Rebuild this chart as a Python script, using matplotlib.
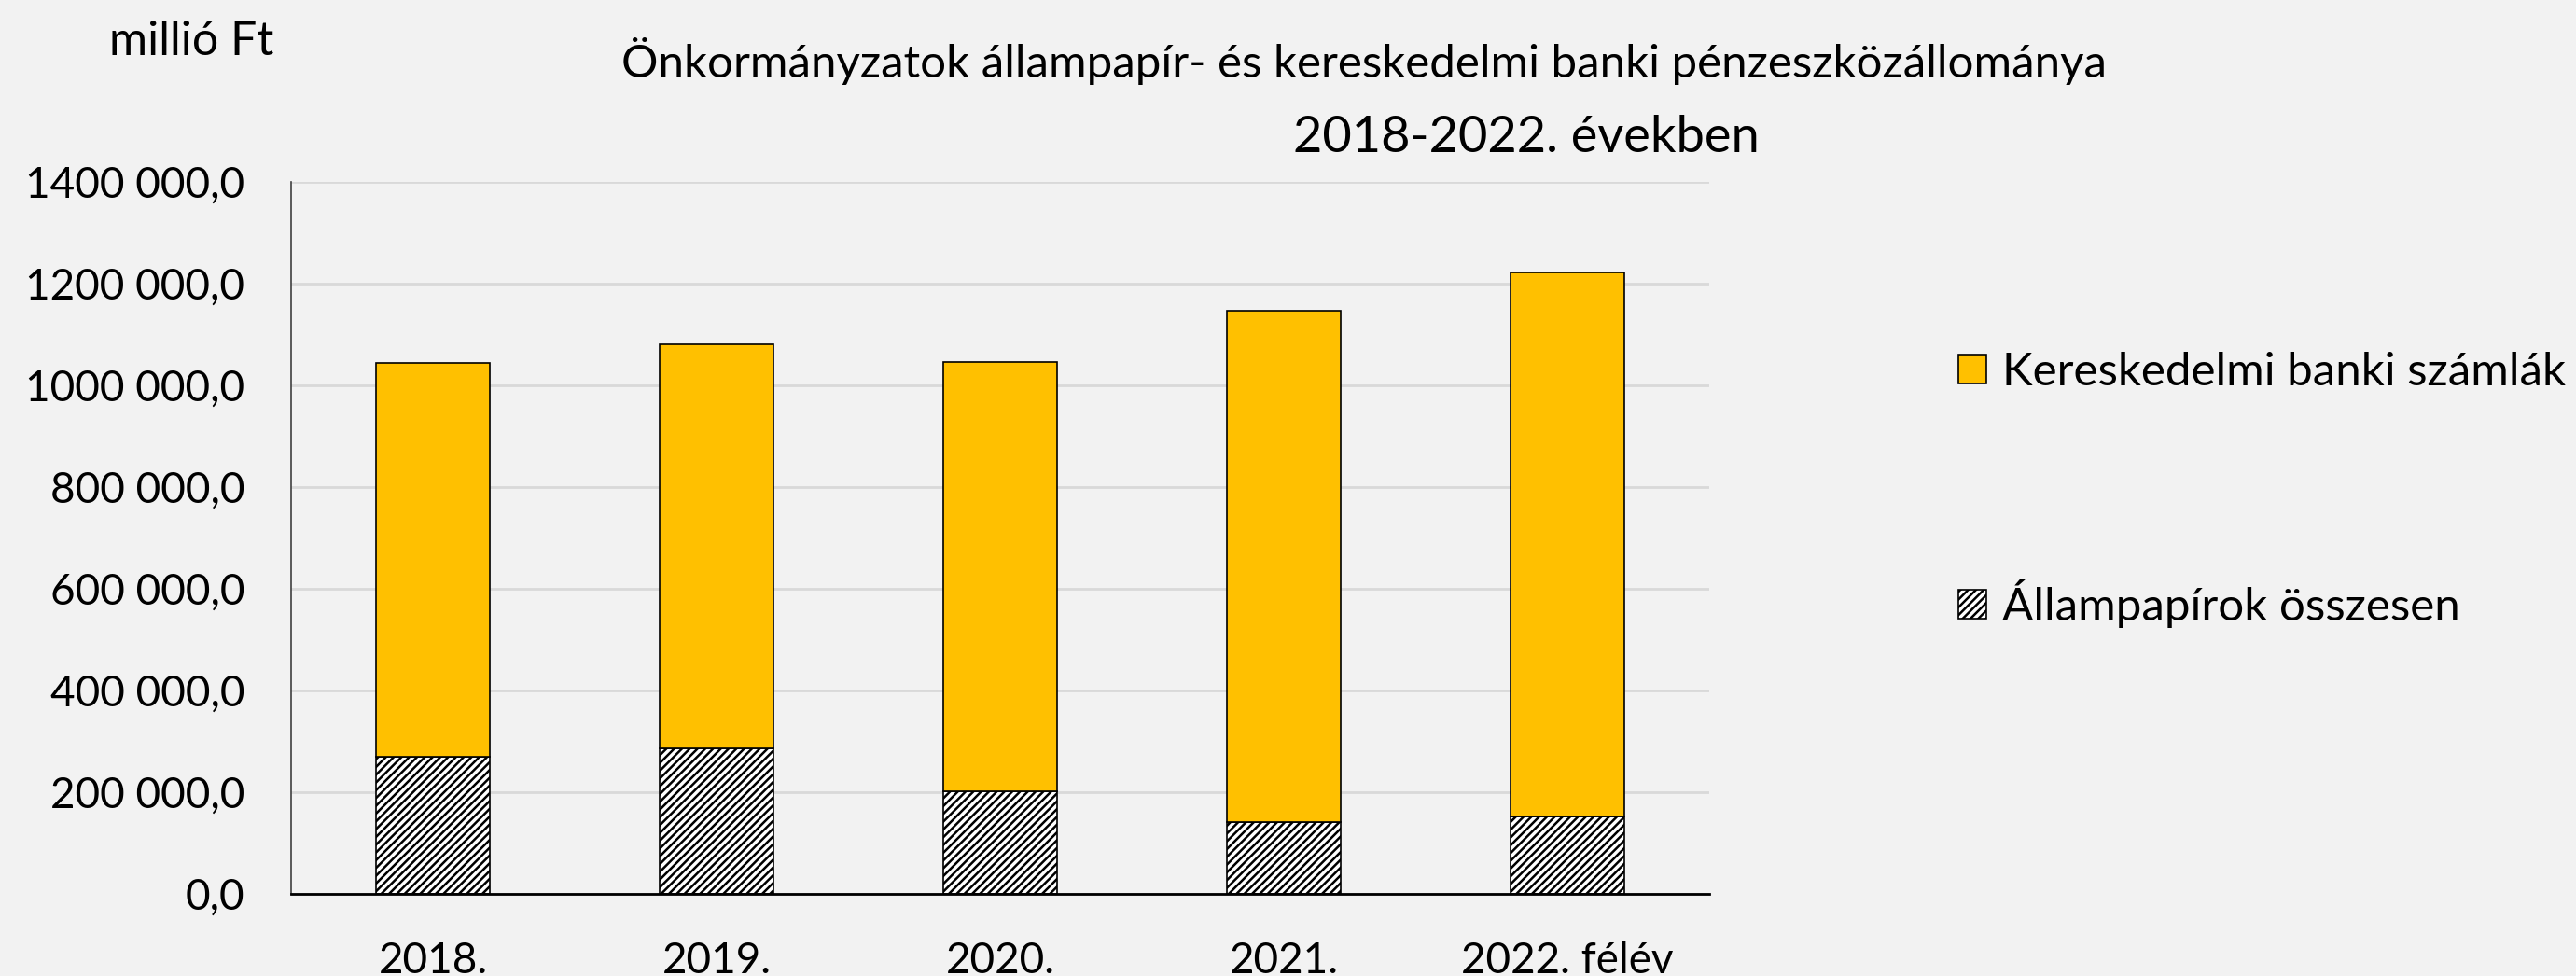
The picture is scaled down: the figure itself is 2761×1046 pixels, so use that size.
import matplotlib
matplotlib.use("Agg")
import matplotlib.pyplot as plt
from matplotlib.patches import Patch

categories = ["2018.", "2019.", "2020.", "2021.", "2022. félév"]
allampapir = [270300, 286200, 202000, 142200, 151500]
banki = [773400, 794000, 844500, 1005300, 1069900]
ytick_values = [0, 200000, 400000, 600000, 800000, 1000000, 1200000, 1400000]
ytick_labels = ["0,0", "200 000,0", "400 000,0", "600 000,0", "800 000,0",
                "1000 000,0", "1200 000,0", "1400 000,0"]
series_labels = ["Kereskedelmi banki számlák", "Állampapírok összesen"]
title1 = "Önkormányzatok állampapír- és kereskedelmi banki pénzeszközállománya"
title2 = "2018-2022. években"
unit_label = "millió Ft"

plt.rcParams['font.family'] = ['Lato', 'DejaVu Sans']
plt.rcParams['hatch.linewidth'] = 1.8

W, H = 2761, 1046
fig = plt.figure(figsize=(W / 100, H / 100), dpi=100)
bg = "#F2F2F2"
fig.patch.set_facecolor(bg)

ax = fig.add_axes([312 / W, 1 - 958 / H, (1832 - 312) / W, (958 - 195) / H])
ax.set_facecolor(bg)

x = list(range(len(categories)))
b1 = ax.bar(x, allampapir, width=0.4, color="white", edgecolor="black",
            hatch="////", linewidth=1.2, zorder=3)
b2 = ax.bar(x, banki, width=0.4, bottom=allampapir, color="#FFC000",
            edgecolor="black", linewidth=1.2, zorder=3)

ax.set_xlim(-0.5, len(categories) - 0.5)
ax.set_ylim(0, 1400000)
ax.set_yticks(ytick_values)
ax.set_yticklabels(ytick_labels, fontsize=33)
ax.set_xticks(x)
ax.set_xticklabels(categories, fontsize=33)
ax.tick_params(axis='y', length=0, pad=36)
ax.tick_params(axis='x', length=0, pad=37)
ax.grid(axis='y', color="#D9D9D9", linewidth=2, zorder=0)
for s in ["top", "right"]:
    ax.spines[s].set_visible(False)
ax.spines["left"].set_color("#404040")
ax.spines["left"].set_linewidth(1.2)
ax.spines["bottom"].set_color("black")
ax.spines["bottom"].set_linewidth(2)
ax.spines["bottom"].set_zorder(4)

fig.text(1462 / W, 1 - 83 / H, title1, fontsize=35.5, ha="center", va="baseline")
fig.text(1636 / W, 1 - 163 / H, title2, fontsize=39, ha="center", va="baseline")
fig.text(117 / W, 1 - 59 / H, unit_label, fontsize=36, ha="left", va="baseline")

handles = [Patch(facecolor="#FFC000", edgecolor="black", linewidth=1.2),
           Patch(facecolor="white", edgecolor="black", hatch="////", linewidth=1.2)]
leg = fig.legend(handles, series_labels, loc="upper left",
                 bbox_to_anchor=(2099 / W, 1 - 377 / H), frameon=False,
                 fontsize=35.5, handlelength=0.61, handleheight=0.61,
                 handletextpad=0.35, labelspacing=4.03, borderaxespad=0,
                 borderpad=0)

fig.savefig("out.png", dpi=100, facecolor=bg)
